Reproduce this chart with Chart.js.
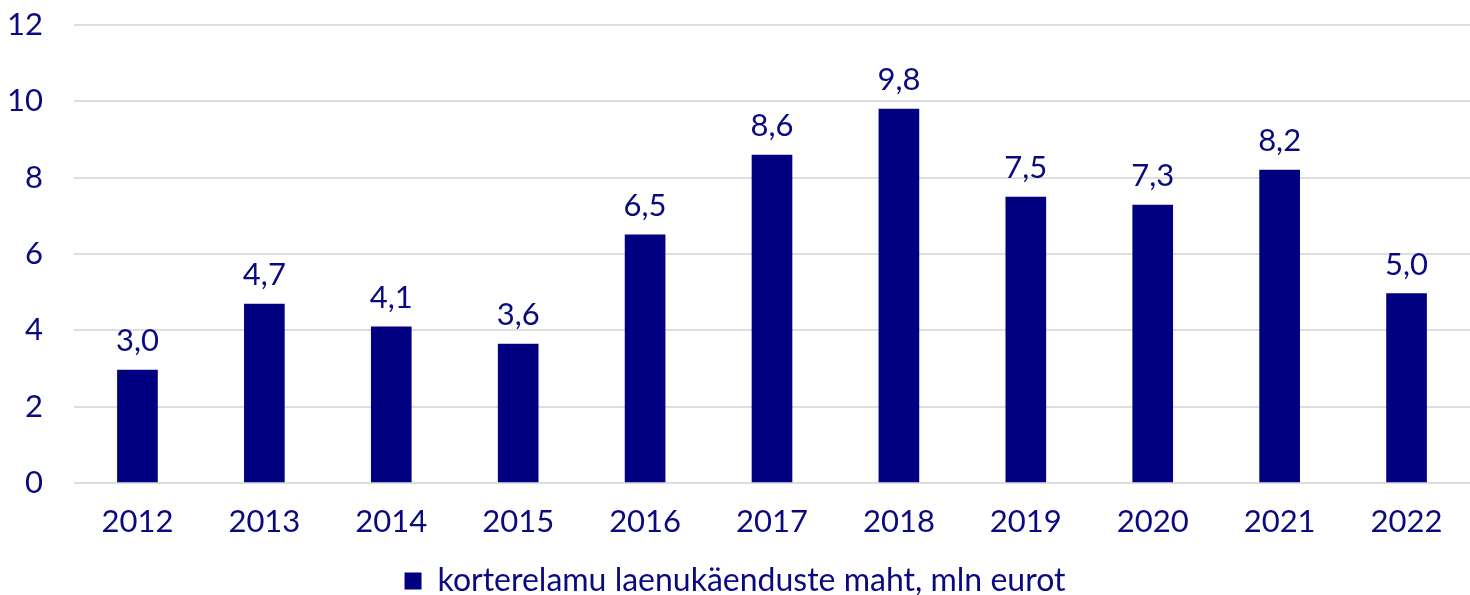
<!DOCTYPE html>
<html>
<head>
<meta charset="utf-8">
<script src="https://cdn.jsdelivr.net/npm/chart.js@4"></script>
<style>
    html, body { margin: 0; padding: 0; background: #fff; }
    #wrap { width: 1470px; height: 595px; }
</style>
</head>
<body>
<div id="wrap"><canvas id="chart"></canvas></div>
<script>
// data
const years = ["2012", "2013", "2014", "2015", "2016", "2017", "2018", "2019", "2020", "2021", "2022"];
const volumes = [2.96, 4.69, 4.09, 3.64, 6.5, 8.59, 9.8, 7.49, 7.28, 8.2, 4.96];
const seriesName = "korterelamu laenukäenduste maht, mln eurot";

const navy = "#000080";
const textColor = "#0a0a80";

// value labels above bars, comma decimal
const barLabels = {
    id: "barLabels",
    afterDatasetsDraw(chart) {
        const ctx = chart.ctx;
        const meta = chart.getDatasetMeta(0);
        ctx.save();
        ctx.font = "31px Lato";
        ctx.fillStyle = textColor;
        ctx.textAlign = "center";
        ctx.textBaseline = "alphabetic";
        meta.data.forEach((bar, i) => {
            let txt = volumes[i].toFixed(1).replace(".", ",");
            ctx.fillText(txt, bar.x, bar.y - 19);
        });
        ctx.restore();
    }
};

new Chart(document.getElementById("chart"), {
    type: "bar",
    data: {
        labels: years,
        datasets: [{
            label: seriesName,
            data: volumes,
            backgroundColor: navy,
            barThickness: 40
        }]
    },
    options: {
        responsive: true,
        maintainAspectRatio: false,
        animation: false,
        layout: { padding: { top: 25, right: 0, left: 0, bottom: -12 } },
        scales: {
            x: {
                grid: { display: false },
                border: { display: false },
                ticks: { color: textColor, font: { family: "Lato", size: 31 }, padding: 12 },
                afterFit(scale) { scale.height = 82; }
            },
            y: {
                min: 0,
                max: 12,
                ticks: { stepSize: 2, color: textColor, font: { family: "Lato", size: 31 }, padding: 31 },
                grid: { color: "#dedede", lineWidth: 2, drawTicks: false },
                border: { display: false },
                afterFit(scale) { scale.width = 74; scale.paddingTop = 0; }
            }
        },
        plugins: {
            legend: {
                position: "bottom",
                labels: {
                    color: textColor,
                    font: { family: "Lato", size: 32 },
                    boxWidth: 17,
                    boxHeight: 17,
                    padding: 0
                }
            },
            tooltip: { enabled: false }
        }
    },
    plugins: [barLabels]
});
</script>
</body>
</html>
